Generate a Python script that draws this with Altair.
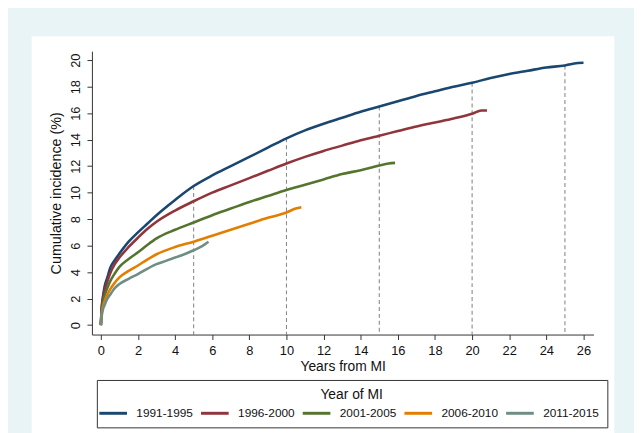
import altair as alt
import pandas as pd

# ---- data ----
series_names = ["1991-1995", "1996-2000", "2001-2005", "2006-2010", "2011-2015"]
series_colors = ["#1A476F", "#90353B", "#55752F", "#E37E00", "#6E8E84"]

t_9195 = [0, .05, .1, .2, .35, .5, .75, 1, 1.5, 2, 2.5, 3, 4, 5, 6, 7, 8, 9, 10, 11, 12, 13,
          14, 15, 16, 17, 18, 19, 20, 21, 22, 23, 24, 25, 25.5, 26]
v_9195 = [0, 1.4, 2.0, 2.9, 3.6, 4.3, 4.9, 5.4, 6.3, 7.0, 7.65, 8.3, 9.45, 10.5, 11.3, 12.0, 12.7,
          13.4, 14.1, 14.7, 15.2, 15.65, 16.1, 16.5, 16.9, 17.3, 17.65, 18.0, 18.3, 18.65, 18.95,
          19.2, 19.45, 19.6, 19.75, 19.8]

t_9600 = [0, .05, .1, .2, .35, .5, .75, 1, 1.5, 2, 2.5, 3, 4, 5, 6, 7, 8, 9, 10, 11, 12, 13,
          14, 15, 16, 17, 18, 19, 20, 20.5, 20.8]
v_9600 = [0, 1.3, 1.9, 2.6, 3.3, 3.9, 4.6, 5.1, 5.9, 6.6, 7.25, 7.8, 8.65, 9.35, 10.0, 10.55, 11.1,
          11.65, 12.2, 12.7, 13.15, 13.55, 13.95, 14.3, 14.65, 15.0, 15.3, 15.6, 15.95, 16.2, 16.2]

t_0105 = [0, .05, .1, .2, .35, .5, .75, 1, 1.5, 2, 2.5, 3, 4, 5, 6, 7, 8, 9, 10, 11, 12, 13,
          14, 15, 15.5, 15.85]
v_0105 = [0, 1.1, 1.6, 2.2, 2.8, 3.3, 3.9, 4.4, 5.0, 5.5, 6.05, 6.55, 7.2, 7.75, 8.3, 8.8, 9.3,
          9.75, 10.2, 10.6, 11.0, 11.4, 11.7, 12.05, 12.2, 12.25]

t_0610 = [0, .05, .1, .2, .35, .5, .75, 1, 1.5, 2, 2.5, 3, 4, 5, 6, 7, 8, 9, 10, 10.5, 10.8]
v_0610 = [0, .9, 1.3, 1.8, 2.3, 2.7, 3.2, 3.6, 4.1, 4.5, 4.95, 5.35, 5.9, 6.3, 6.75, 7.2, 7.65,
          8.1, 8.5, 8.8, 8.9]

t_1115 = [0, .05, .1, .2, .35, .5, .75, 1, 1.5, 2, 2.5, 3, 3.5, 4, 4.5, 5, 5.3, 5.6, 5.8]
v_1115 = [0, .7, 1.1, 1.5, 2.0, 2.3, 2.8, 3.1, 3.5, 3.85, 4.25, 4.6, 4.85, 5.1, 5.35, 5.65, 5.85,
          6.1, 6.3]

ref_years = [5, 10, 15, 20, 25]
ref_tops = [10.5, 14.1, 16.5, 18.3, 19.6]

x_ticks = list(range(0, 27, 2))
y_ticks = list(range(0, 21, 2))

# ---- tables ----
rows = []
for name, ts, vs in zip(series_names,
                        [t_9195, t_9600, t_0105, t_0610, t_1115],
                        [v_9195, v_9600, v_0105, v_0610, v_1115]):
    for t, v in zip(ts, vs):
        rows.append({"years": t, "inc": v, "period": name})
df = pd.DataFrame(rows)
df_ref = pd.DataFrame({"years": ref_years, "inc": ref_tops})
df_panel = pd.DataFrame({"k": [0]})

W, H = 508, 287
FONT = "Liberation Sans"

xscale = alt.Scale(domain=[-0.48, 26.54], nice=False, zero=False)
yscale = alt.Scale(domain=[-0.71, 20.68], nice=False, zero=False)

xaxis = alt.Axis(values=x_ticks, title="Years from MI", grid=False, tickSize=5,
                 labelFontSize=13, titleFontSize=14, labelPadding=5, titlePadding=2,
                 titleFontWeight="normal", labelFlush=False, zindex=1)
yaxis = alt.Axis(values=y_ticks, title="Cumulative incidence (%)", grid=False, tickSize=5,
                 labelFontSize=13, titleFontSize=14.5, labelAngle=270, labelAlign="center",
                 labelBaseline="bottom", labelPadding=5, titlePadding=6,
                 titleFontWeight="normal", labelFlush=False, zindex=1)

panel = alt.Chart(df_panel).mark_rect(color="white").encode(
    x=alt.value(-61), x2=alt.value(529), y=alt.value(-15), y2=alt.value(400)
)

rules = alt.Chart(df_ref).mark_rule(color="#8A8A8A", strokeDash=[4, 3], strokeWidth=1.1).encode(
    x=alt.X("years:Q", scale=xscale, axis=xaxis),
    y=alt.Y("inc:Q", scale=yscale, axis=yaxis),
    y2=alt.value(H),
)

lines = alt.Chart(df).mark_line(strokeWidth=2.6, interpolate="monotone").encode(
    x=alt.X("years:Q", scale=xscale, axis=xaxis),
    y=alt.Y("inc:Q", scale=yscale, axis=yaxis),
    color=alt.Color(
        "period:N",
        scale=alt.Scale(domain=series_names, range=series_colors),
        legend=alt.Legend(
            orient="none", legendX=5, legendY=333, direction="horizontal",
            title="Year of MI", titleFontSize=14, titleFontWeight="normal",
            titleAnchor="middle", titleAlign="center", titlePadding=3,
            labelFontSize=12, labelOffset=15, columnPadding=1,
            symbolType="M-2,0H2", symbolSize=196, symbolStrokeWidth=3,
            padding=8, strokeColor="#333333", fillColor="white", zindex=1,
        ),
    ),
)

chart = alt.layer(panel, rules, lines).properties(
    width=W, height=H,
    autosize=alt.AutoSizeParams(type="none"),
    padding={"left": 85, "top": 41, "right": 41, "bottom": 97},
    background="#E9F4F7",
).configure_view(stroke=None).configure(font=FONT).configure_axis(
    domainColor="#333333", tickColor="#333333", labelColor="#111111", titleColor="#111111",
    domainWidth=1, tickWidth=1,
).configure_legend(labelColor="#111111", titleColor="#111111", labelFont=FONT, titleFont=FONT)

chart.save("out.html", embed_options={"renderer": "svg", "actions": False})
